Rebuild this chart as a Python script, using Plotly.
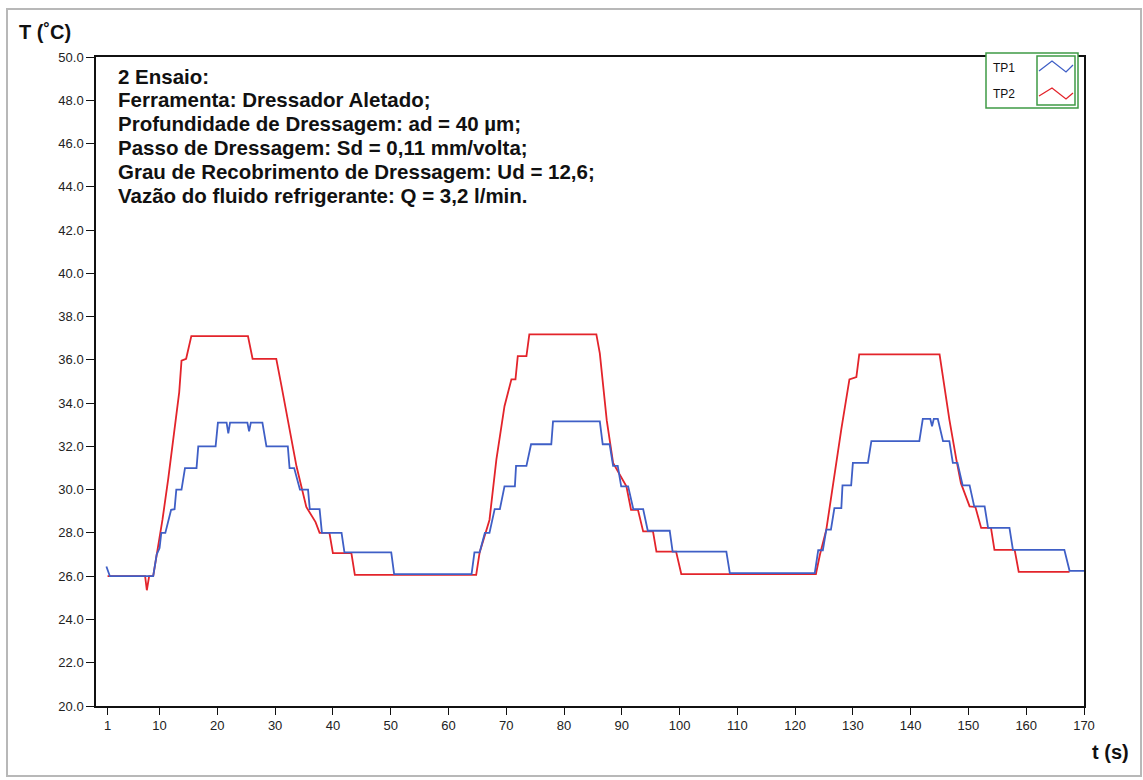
import plotly.graph_objects as go

# TP1 thermocouple readings: time (s) and temperature (°C)
tp1_t = [0.8, 1.4, 8.9, 9.2, 9.5, 10.0, 10.3, 11.0, 11.5, 12.0, 12.6, 12.9, 13.8, 14.4, 16.4, 16.7, 19.7, 20.1,
         21.6, 21.9, 22.2, 25.2, 25.5, 25.8, 27.8, 28.5, 32.2, 32.5, 33.3, 34.3, 35.7, 36.0, 37.7, 38.1,
         41.5, 42.0, 50.1, 50.6, 64.0, 64.5, 65.4, 66.3, 67.1, 68.0, 68.9, 69.7, 71.5, 71.7, 73.5, 74.3,
         77.8, 78.1, 86.2, 86.7, 87.9, 88.5, 89.3, 89.9, 91.1, 92.0, 93.7, 94.5, 98.3, 98.8, 108.1, 108.7,
         123.4, 124.0, 124.8, 125.4, 126.2, 126.8, 128.0, 128.2, 129.7, 130.0, 132.6, 133.2, 141.5, 142.1,
         143.4, 143.7, 144.0, 144.7, 145.6, 146.7, 147.3, 148.1, 149.0, 150.2, 151.0, 152.8, 153.4, 157.1,
         157.7, 166.6, 167.5, 170.0]
tp1_T = [26.45, 26.0, 26.0, 26.5, 27.0, 27.3, 28.0, 28.0, 28.6, 29.07, 29.1, 30.0, 30.0, 31.0, 31.0, 32.0, 32.0, 33.1,
         33.1, 32.6, 33.1, 33.1, 32.7, 33.1, 33.1, 32.0, 32.0, 31.0, 31.0, 30.0, 30.0, 29.1, 29.1, 28.0,
         28.0, 27.1, 27.1, 26.1, 26.1, 27.1, 27.1, 28.0, 28.0, 29.1, 29.1, 30.15, 30.15, 31.1, 31.1, 32.1,
         32.1, 33.16, 33.16, 32.1, 32.1, 31.1, 31.1, 30.15, 30.15, 29.1, 29.1, 28.1, 28.1, 27.14, 27.14, 26.14,
         26.14, 27.2, 27.2, 28.15, 28.15, 29.15, 29.15, 30.2, 30.2, 31.24, 31.24, 32.24, 32.24, 33.27,
         33.27, 32.93, 33.27, 33.27, 32.24, 32.24, 31.24, 31.24, 30.2, 30.2, 29.23, 29.23, 28.23, 28.23,
         27.22, 27.22, 26.25, 26.25]

# TP2 thermocouple readings: time (s) and temperature (°C)
tp2_t = [1.0, 7.5, 7.8, 8.2, 8.9, 9.5, 10.5, 11.5, 12.5, 13.4, 13.8, 14.6, 15.5, 25.3, 26.1, 30.2, 31.1, 32.5,
         33.7, 35.4, 37.0, 37.7, 39.4, 40.0, 43.2, 43.8, 64.8, 65.4, 67.1, 68.3, 69.7, 70.9, 71.6, 72.0,
         73.5, 74.0, 85.6, 86.2, 87.4, 88.5, 90.8, 91.6, 92.8, 93.7, 95.4, 96.0, 99.4, 100.3, 123.6, 124.3,
         125.4, 128.0, 129.4, 130.6, 131.1, 145.0, 146.1, 146.7, 147.9, 148.7, 150.2, 151.2, 152.2, 153.9,
         154.5, 158.0, 158.7, 167.5]
tp2_T = [26.0, 26.0, 25.35, 26.0, 26.0, 27.0, 28.6, 30.5, 32.6, 34.5, 35.96, 36.05, 37.1, 37.1, 36.05, 36.05, 34.8, 32.8,
         31.08, 29.2, 28.5, 28.0, 28.0, 27.07, 27.07, 26.06, 26.06, 27.1, 28.6, 31.4, 33.86, 35.1, 35.1, 36.17,
         36.17, 37.18, 37.18, 36.3, 33.2, 31.24, 30.15, 29.07, 29.07, 28.07, 28.07, 27.14, 27.14, 26.1, 26.1, 27.0,
         28.15, 32.8, 35.1, 35.2, 36.25, 36.25, 34.17, 33.24, 31.4, 30.3, 29.23, 29.2, 28.23, 28.23,
         27.22, 27.22, 26.2, 26.2]

x_ticks = [1, 10, 20, 30, 40, 50, 60, 70, 80, 90, 100, 110, 120, 130, 140, 150, 160, 170]
y_ticks = [20 + 2 * i for i in range(16)]

info_lines = [
    "2 Ensaio:",
    "Ferramenta: Dressador Aletado;",
    "Profundidade de Dressagem: ad = 40 µm;",
    "Passo de Dressagem: Sd = 0,11 mm/volta;",
    "Grau de Recobrimento de Dressagem: Ud = 12,6;",
    "Vazão do fluido refrigerante: Q = 3,2 l/min.",
]

BLUE = "#3f5fc6"
RED = "#e3242b"
GREEN = "#3f9a46"

W, H = 1143, 780
L, R, T, B = 96, 59, 57, 74
PW, PH = W - L - R, H - T - B


def px(xp):
    return (xp - L) / PW


def py(yp):
    return (H - B - yp) / PH


fig = go.Figure()
fig.add_trace(go.Scatter(x=tp2_t, y=tp2_T, mode="lines", name="TP2",
                         line=dict(color=RED, width=1.8)))
fig.add_trace(go.Scatter(x=tp1_t, y=tp1_T, mode="lines", name="TP1",
                         line=dict(color=BLUE, width=1.8)))

font_main = "Liberation Sans, Arial, sans-serif"

annotations = []
for i, line in enumerate(info_lines):
    annotations.append(dict(xref="paper", yref="paper", x=px(116), y=py(76 + i * 23.8),
                            xanchor="left", yanchor="middle", showarrow=False, text=f"<b>{line}</b>",
                            font=dict(family=font_main, size=20.5, color="#111111")))
annotations += [
    dict(xref="paper", yref="paper", x=px(17), y=py(32), xanchor="left", yanchor="middle",
         showarrow=False, text="<b>T (˚C)</b>", font=dict(family=font_main, size=20, color="#111111")),
    dict(xref="paper", yref="paper", x=px(1131), y=py(752), xanchor="right", yanchor="middle",
         showarrow=False, text="<b>t (s)</b>", font=dict(family=font_main, size=20, color="#111111")),
    dict(xref="paper", yref="paper", x=px(991), y=py(68), xanchor="left", yanchor="middle",
         showarrow=False, text="TP1", font=dict(family=font_main, size=12, color="#111111")),
    dict(xref="paper", yref="paper", x=px(991), y=py(94), xanchor="left", yanchor="middle",
         showarrow=False, text="TP2", font=dict(family=font_main, size=12, color="#111111")),
]


def path(points):
    return "M " + " L ".join(f"{px(a):.5f},{py(b):.5f}" for a, b in points)


shapes = [
    # outer panel frame
    dict(type="rect", xref="paper", yref="paper", x0=px(7), x1=px(1141), y0=py(776), y1=py(9),
         line=dict(color="#b8b8b8", width=2), layer="below"),
    # legend boxes
    dict(type="rect", xref="paper", yref="paper", x0=px(986), x1=px(1078), y0=py(108), y1=py(53),
         line=dict(color=GREEN, width=1.5), fillcolor="white"),
    dict(type="rect", xref="paper", yref="paper", x0=px(1037), x1=px(1075), y0=py(105), y1=py(56),
         line=dict(color=GREEN, width=1.5)),
    dict(type="path", xref="paper", yref="paper",
         path=path([(1039, 71), (1052, 61), (1066, 72), (1073, 65)]),
         line=dict(color=BLUE, width=1.3)),
    dict(type="path", xref="paper", yref="paper",
         path=path([(1039, 96), (1052, 88), (1066, 99), (1073, 93)]),
         line=dict(color=RED, width=1.3)),
]

fig.update_layout(
    width=W, height=H,
    margin=dict(l=L, r=R, t=T, b=B),
    paper_bgcolor="white", plot_bgcolor="white",
    showlegend=False,
    annotations=annotations,
    shapes=shapes,
    xaxis=dict(range=[-1.0, 170.0], tickvals=x_ticks, ticktext=[str(v) for v in x_ticks],
               showgrid=False, zeroline=False, showline=True, linecolor="#111111", linewidth=1.5,
               mirror=True, ticks="outside", ticklen=7, tickcolor="#111111",
               tickfont=dict(family=font_main, size=13, color="#222222")),
    yaxis=dict(range=[20, 50], tickvals=y_ticks, ticktext=[f"{v:.1f}" for v in y_ticks],
               showgrid=False, zeroline=False, showline=True, linecolor="#111111", linewidth=1.5,
               mirror=True, ticks="outside", ticklen=8, tickcolor="#111111",
               tickfont=dict(family=font_main, size=13, color="#222222")),
)

fig.write_html("out.html")
